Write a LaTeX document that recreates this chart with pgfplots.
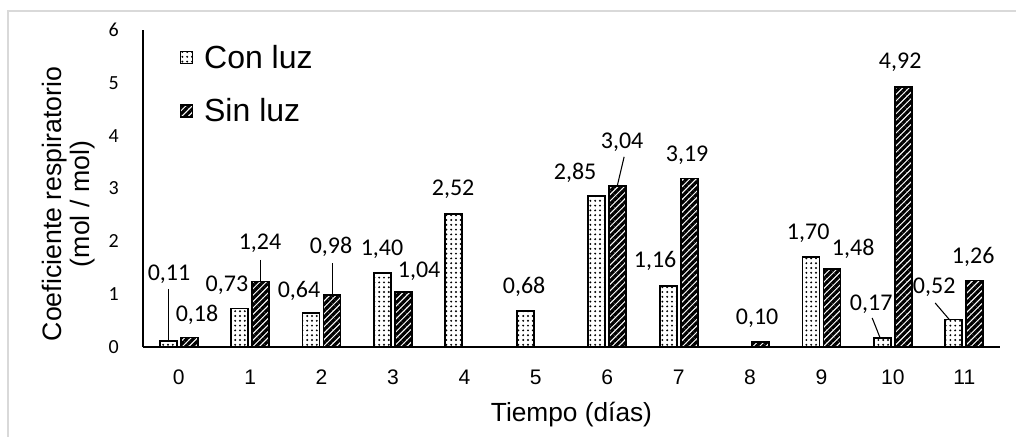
\documentclass[border=0pt]{standalone}
\usepackage{fontspec}
\setmainfont{Liberation Sans}
\newfontfamily\calibri{Carlito}
\usepackage{pgfplots}
\pgfplotsset{compat=1.18}
\usetikzlibrary{patterns.meta}

\definecolor{frame}{RGB}{217,217,217}

\tikzset{
  lbl/.style={font=\calibri\fontsize{18}{20}\selectfont, inner sep=0pt, anchor=base, yshift=-5.7pt},
  lead/.style={black, line width=0.8pt},
}
\pgfplotsset{
  square legend/.style={legend image code/.code={\draw[##1, line width=0.9pt] (0pt,-4.5pt) rectangle (9pt,4.5pt);}},
}

\begin{document}
\begin{tikzpicture}
\begin{axis}[
  scale only axis, width=642.75pt, height=237.75pt,
  xmin=-0.5, xmax=11.5, ymin=0, ymax=6,
  clip=false,
  axis x line=bottom, axis y line=left,
  axis line style={-, line width=1pt, black},
  xtick={0,...,11}, ytick={0,...,6}, major tick length=0pt,
  xticklabels={0,1,2,3,4,5,6,7,8,9,10,11},
  yticklabels={0,1,2,3,4,5,6},
  x tick label style={font=\fontsize{15.8}{19}\selectfont, inner sep=0pt, anchor=north, yshift=-17pt},
  y tick label style={font=\calibri\fontsize{15}{18}\selectfont, inner sep=0pt, anchor=east, xshift=-18pt},
  xlabel={Tiempo (días)},
  xlabel style={font=\fontsize{19.7}{23}\selectfont, at={(axis description cs:0.5,0)}, anchor=base, yshift=-55.5pt},
  ylabel={Coeficiente respiratorio\\(mol / mol)},
  ylabel style={font=\fontsize{20}{20.7}\selectfont, align=center, at={(axis description cs:-0.0869,0.451)}, anchor=center, rotate=0},
  legend style={draw=none, fill=none, at={(axis description cs:0.0432,0.9527)}, anchor=north west,
    font=\fontsize{24}{27}\selectfont, inner sep=0pt, nodes={inner sep=0pt},
    row sep=21pt, column sep=8pt, legend cell align=left},
]
\coordinate (O) at (rel axis cs:0,0);
% Con luz
\addplot[ybar, bar width=12.75pt, bar shift=-7.875pt, draw=black, line width=1.4pt,
  pattern={Dots[distance=3.6pt, radius=0.8pt]}, pattern color=black, square legend]
  coordinates {(0,0.11) (1,0.73) (2,0.64) (3,1.40) (4,2.52) (5,0.68) (6,2.85) (7,1.16) (9,1.70) (10,0.17) (11,0.52)};
\addlegendentry{Con luz}
% Sin luz
\addplot[ybar, bar width=12.75pt, bar shift=7.875pt, draw=black, line width=1.4pt,
  pattern={Lines[angle=45, distance=3.4pt, line width=2.4pt]}, pattern color=black, square legend]
  coordinates {(0,0.18) (1,1.24) (2,0.98) (3,1.04) (6,3.04) (7,3.19) (8,0.10) (9,1.48) (10,4.92) (11,1.26)};
\addlegendentry{Sin luz}

% value labels and leader lines
\node[lbl] at (axis cs:-0.136,1.40) {0,11};
\draw[lead] (axis cs:-0.14,1.10) -- (axis cs:-0.14,0.11);
\node[lbl] at (axis cs:0.256,0.625) {0,18};
\node[lbl] at (axis cs:0.676,1.19) {0,73};
\node[lbl] at (axis cs:1.139,1.99) {1,24};
\draw[lead] (axis cs:1.147,1.65) -- (axis cs:1.147,1.24);
\node[lbl] at (axis cs:1.685,1.08) {0,64};
\node[lbl] at (axis cs:2.133,1.918) {0,98};
\draw[lead] (axis cs:2.147,1.59) -- (axis cs:2.147,0.98);
\node[lbl] at (axis cs:2.847,1.875) {1,40};
\node[lbl] at (axis cs:3.366,1.46) {1,04};
\node[lbl] at (axis cs:3.842,3.01) {2,52};
\node[lbl] at (axis cs:4.836,1.155) {0,68};
\node[lbl] at (axis cs:5.55,3.31) {2,85};
\node[lbl] at (axis cs:6.209,3.90) {3,04};
\draw[lead] (axis cs:6.237,3.60) -- (axis cs:6.139,3.04);
\node[lbl] at (axis cs:6.671,1.648) {1,16};
\node[lbl] at (axis cs:7.119,3.655) {3,19};
\node[lbl] at (axis cs:8.099,0.568) {0,10};
\node[lbl] at (axis cs:8.814,2.18) {1,70};
\node[lbl] at (axis cs:9.444,1.875) {1,48};
\node[lbl] at (axis cs:9.696,0.833) {0,17};
\draw[lead] (axis cs:9.71,0.55) -- (axis cs:9.822,0.17);
\node[lbl] at (axis cs:10.102,5.417) {4,92};
\node[lbl] at (axis cs:10.578,1.155) {0,52};
\draw[lead] (axis cs:10.592,0.833) -- (axis cs:10.79,0.52);
\node[lbl] at (axis cs:11.125,1.72) {1,26};
\end{axis}

% chart area frame
\draw[frame, line width=1pt] ([xshift=-101.25pt,yshift=-80pt]O) -- ([xshift=-101.25pt,yshift=252pt]O) -- ([xshift=670pt,yshift=252pt]O);
\pgfresetboundingbox
\useasboundingbox ([xshift=-107.25pt,yshift=-66.75pt]O) rectangle ([xshift=654.75pt,yshift=260.25pt]O);
\end{tikzpicture}
\end{document}
